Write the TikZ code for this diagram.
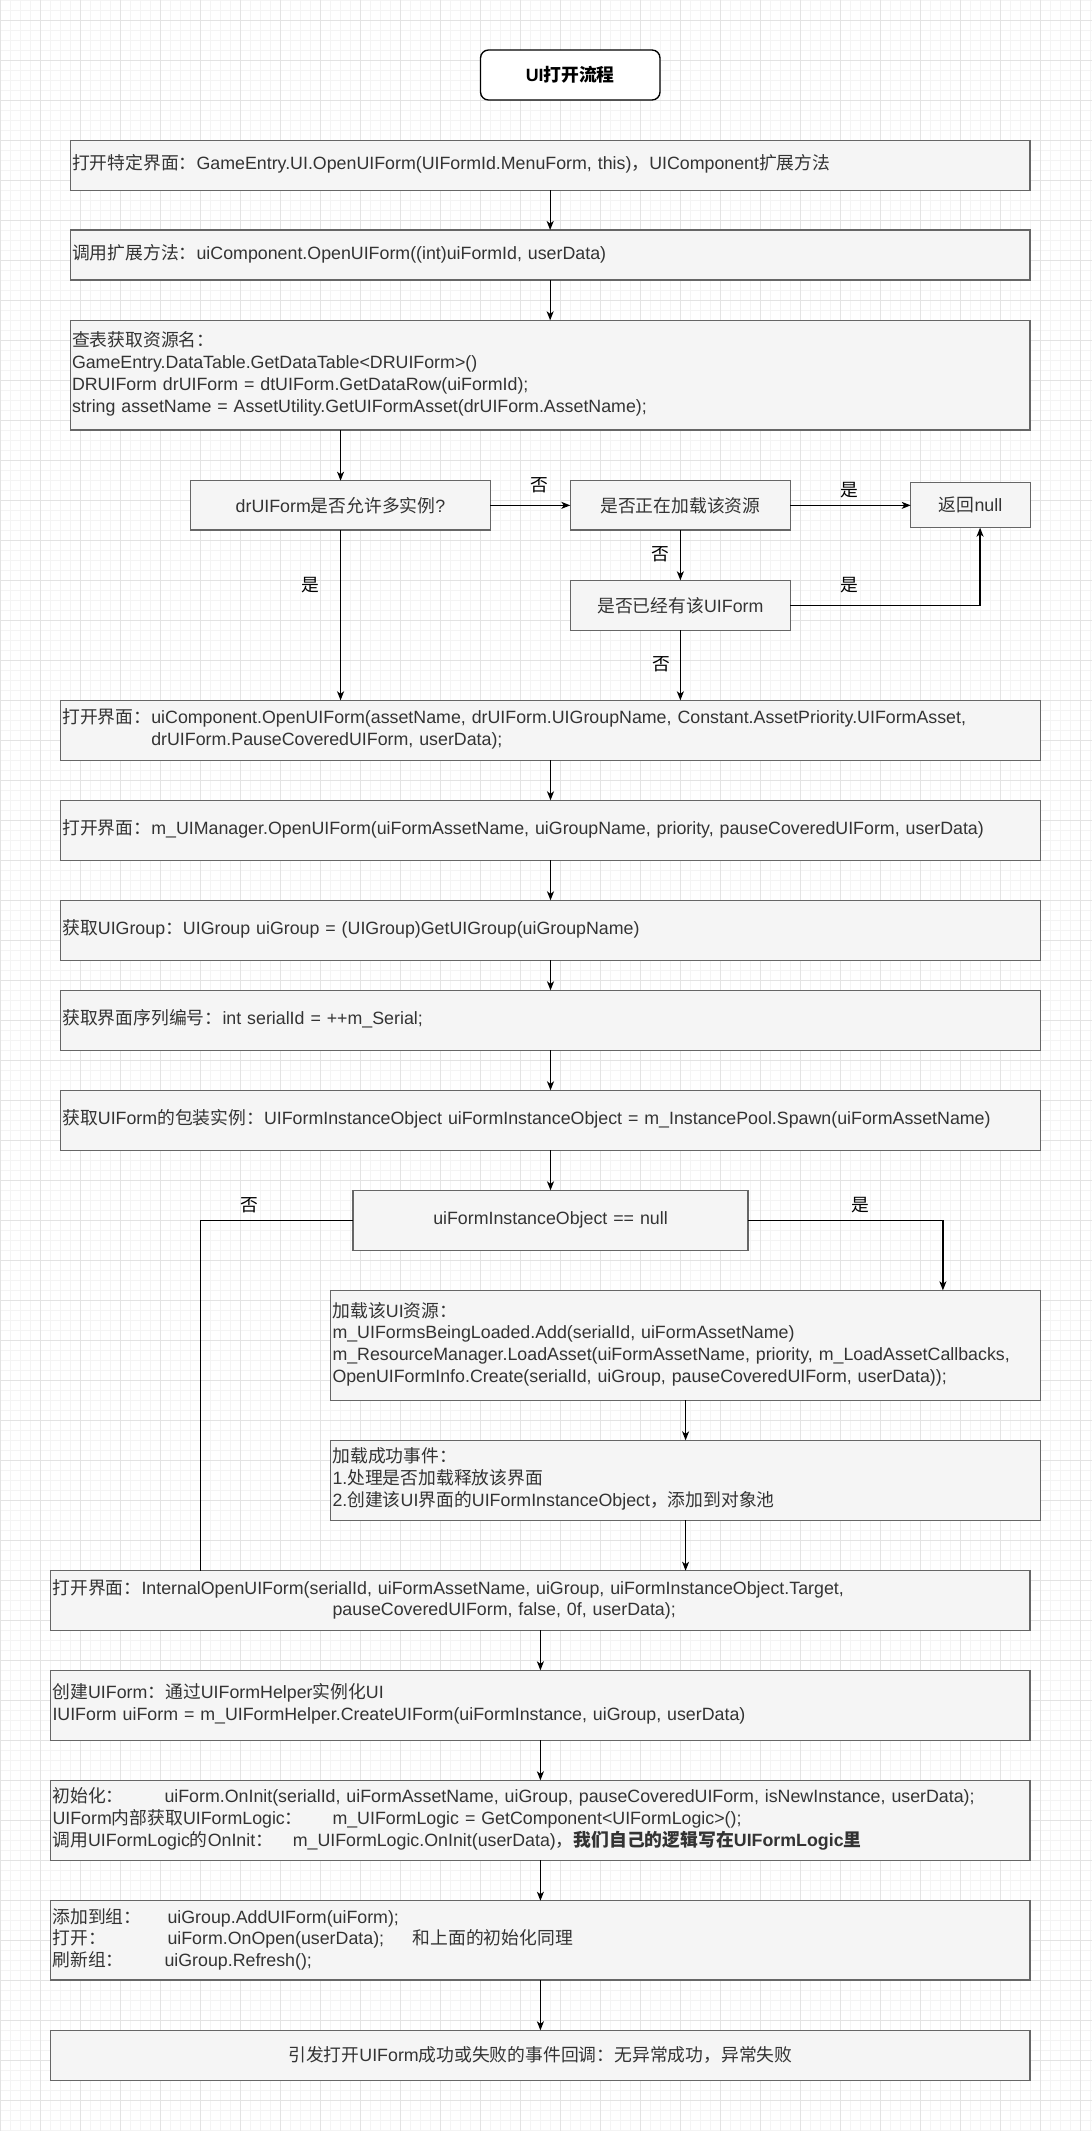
\documentclass[tikz,border=0pt]{standalone}
\usepackage{fontspec}
\setmainfont{Liberation Sans}
\newfontfamily\cjkf{Noto Sans CJK SC}
\newcommand\latf{\rmfamily}
\XeTeXinterchartokenstate=1
\newXeTeXintercharclass\CJKcls
\newcount\cjkcnt
\newcommand\setcjkrange[2]{\cjkcnt=#1\relax\loop\XeTeXcharclass\cjkcnt=\CJKcls\relax\advance\cjkcnt by 1\relax\ifnum\cjkcnt<#2\relax\repeat}
\setcjkrange{"3000}{"3040}
\setcjkrange{"4E00}{"A000}
\setcjkrange{"FF00}{"FFF0}
\XeTeXinterchartoks 0 \CJKcls = {\cjkf}
\XeTeXinterchartoks 4095 \CJKcls = {\cjkf}
\XeTeXinterchartoks \CJKcls 0 = {\latf}
\XeTeXinterchartoks \CJKcls 4095 = {\latf}
\usetikzlibrary{arrows.meta}
\definecolor{boxfill}{HTML}{F5F5F5}
\definecolor{boxline}{HTML}{666666}
\definecolor{boxtext}{HTML}{333333}
\definecolor{gridmajor}{HTML}{E3E3E3}
\definecolor{gridminor}{HTML}{F4F4F4}
\newcommand\lines[1]{\begin{tabular}{@{}l@{}}#1\end{tabular}}
\tikzset{
  txtfont/.style={font=\fontsize{17.8}{21.7}\selectfont},
  boxbase/.style={draw=boxline, fill=boxfill, line width=1.36pt, text=boxtext,
    inner xsep=1.7pt, inner ysep=0pt, outer sep=0pt, txtfont},
  lbox/.style={boxbase, text width=#1, align=left},
  cbox/.style={boxbase, text width=#1, align=center},
  titlebox/.style={draw=black, fill=white, line width=1.36pt, rounded corners=8pt,
    minimum width=179.5pt, minimum height=50pt, inner sep=0pt, outer sep=0pt,
    font=\fontsize{17.8}{21.7}\selectfont\bfseries},
  lab/.style={txtfont, text=black, inner sep=0pt},
  arr/.style={draw=black, line width=1.3pt, -{Stealth[length=9pt,width=7pt,inset=2.5pt]}},
  conn/.style={draw=black, line width=1.3pt},
  gmin/.style={draw=gridminor, line width=1pt},
  gmaj/.style={draw=gridmajor, line width=1pt},
}
\begin{document}
\begin{tikzpicture}[x=1pt,y=-1pt]
\useasboundingbox (0,0) rectangle (1092,2131);
\fill[white] (0,0) rectangle (1092,2131);
% grid
\foreach \gx in {0,10,...,1090} \draw[gmin] (\gx,0) -- (\gx,2131);
\foreach \gy in {0,10,...,2130} \draw[gmin] (0,\gy) -- (1092,\gy);
\foreach \gx in {0,40,...,1080} \draw[gmaj] (\gx,0) -- (\gx,2131);
\foreach \gy in {20,60,...,2100} \draw[gmaj] (0,\gy) -- (1092,\gy);

% nodes
\node[titlebox] (title) at (570.25,75) {UI打开流程};

\node[lbox=956.3, minimum height=50pt] (b1) at (550.15,165.3)
  {\lines{打开特定界面：GameEntry.UI.OpenUIForm(UIFormId.MenuForm, this)，UIComponent扩展方法}};
\node[lbox=956.3, minimum height=50pt] (b2) at (550.15,255)
  {\lines{调用扩展方法：uiComponent.OpenUIForm((int)uiFormId, userData)}};
\node[lbox=956.3, minimum height=109.7pt] (b3) at (550.15,375.15)
  {\lines{查表获取资源名：\\GameEntry.DataTable.GetDataTable<DRUIForm>()\\DRUIForm drUIForm = dtUIForm.GetDataRow(uiFormId);\\string assetName = AssetUtility.GetUIFormAsset(drUIForm.AssetName);}};

\node[cbox=296.1, minimum height=49.3pt] (d1) at (340.55,505.35) {drUIForm是否允许多实例?};
\node[cbox=216.7, minimum height=49.3pt] (d2) at (680.35,505.35) {是否正在加载该资源};
\node[cbox=116.3, minimum height=45pt] (nul) at (970.55,505.2) {返回null};
\node[cbox=216.7, minimum height=50pt] (d3) at (680.35,605.3) {是否已经有该UIForm};

\node[lbox=976.4, minimum height=60pt] (b4) at (550.5,730.3)
  {\lines{打开界面：uiComponent.OpenUIForm(assetName, drUIForm.UIGroupName, Constant.AssetPriority.UIFormAsset,\\\hphantom{打开界面：}drUIForm.PauseCoveredUIForm, userData);}};
\node[lbox=976.4, minimum height=60pt] (b5) at (550.5,830.3)
  {\lines{打开界面：m\_UIManager.OpenUIForm(uiFormAssetName, uiGroupName, priority, pauseCoveredUIForm, userData)}};
\node[lbox=976.4, minimum height=60pt] (b6) at (550.5,930.3)
  {\lines{获取UIGroup：UIGroup uiGroup = (UIGroup)GetUIGroup(uiGroupName)}};
\node[lbox=976.4, minimum height=60pt] (b7) at (550.5,1020.3)
  {\lines{获取界面序列编号：int serialId = ++m\_Serial;}};
\node[lbox=976.4, minimum height=60pt] (b8) at (550.5,1120.3)
  {\lines{获取UIForm的包装实例：UIFormInstanceObject uiFormInstanceObject = m\_InstancePool.Spawn(uiFormAssetName)}};

\node[cbox=391.6, minimum height=60pt] (d4) at (550.5,1220.3) {uiFormInstanceObject == null};

\node[lbox=706.2, minimum height=110pt] (b9) at (685.6,1345.3)
  {\lines{加载该UI资源：\\m\_UIFormsBeingLoaded.Add(serialId, uiFormAssetName)\\m\_ResourceManager.LoadAsset(uiFormAssetName, priority, m\_LoadAssetCallbacks,\\OpenUIFormInfo.Create(serialId, uiGroup, pauseCoveredUIForm, userData));}};
\node[lbox=706.2, minimum height=80pt] (b10) at (685.6,1480.3)
  {\lines{加载成功事件：\\1.处理是否加载释放该界面\\2.创建该UI界面的UIFormInstanceObject，添加到对象池}};

\node[lbox=975.8, minimum height=59.6pt] (b11) at (540.4,1600.5)
  {\lines{打开界面：InternalOpenUIForm(serialId, uiFormAssetName, uiGroup, uiFormInstanceObject.Target,\\\hspace*{280pt}pauseCoveredUIForm, false, 0f, userData);}};
\node[lbox=975.8, minimum height=70pt] (b12) at (540.4,1705.3)
  {\lines{创建UIForm：通过UIFormHelper实例化UI\\IUIForm uiForm = m\_UIFormHelper.CreateUIForm(uiFormInstance, uiGroup, userData)}};
\node[lbox=975.8, minimum height=80pt] (b13) at (540.4,1820.3)
  {\lines{\makebox[112pt][l]{初始化：}uiForm.OnInit(serialId, uiFormAssetName, uiGroup, pauseCoveredUIForm, isNewInstance, userData);\\\makebox[280pt][l]{UIForm内部获取UIFormLogic：}m\_UIFormLogic = GetComponent<UIFormLogic>();\\\makebox[240.3pt][l]{调用UIFormLogic的OnInit：}m\_UIFormLogic.OnInit(userData)，{\bfseries 我们自己的逻辑写在UIFormLogic里}}};
\node[lbox=975.8, minimum height=79.3pt] (b14) at (540.4,1940.35)
  {\lines{\makebox[115pt][l]{添加到组：}uiGroup.AddUIForm(uiForm);\\\makebox[115pt][l]{打开：}\makebox[245.2pt][l]{uiForm.OnOpen(userData);}和上面的初始化同理\\\makebox[112pt][l]{刷新组：}uiGroup.Refresh();}};
\node[cbox=975.8, minimum height=50pt] (b15) at (540.4,2055.3)
  {引发打开UIForm成功或失败的事件回调：无异常成功，异常失败};

% connectors
\draw[arr] (b1.south) -- (b2.north);
\draw[arr] (b2.south) -- (b3.north);
\draw[arr] (b3.south -| d1.north) -- (d1.north);
\draw[arr] (d1.east) -- (d2.west);
\draw[arr] (d2.east) -- (d2.east -| nul.west);
\draw[arr] (d2.south) -- (d3.north);
\draw[arr] (d3.east) -| ([xshift=9.5pt]nul.south);
\draw[arr] (d3.south) -- (d3.south |- b4.north);
\draw[arr] (d1.south) -- (d1.south |- b4.north);
\draw[arr] (b4.south) -- (b5.north);
\draw[arr] (b5.south) -- (b6.north);
\draw[arr] (b6.south) -- (b7.north);
\draw[arr] (b7.south) -- (b8.north);
\draw[arr] (b8.south) -- (d4.north);
\draw[conn] (d4.west) -| ([xshift=149.8pt]b11.north west);
\draw[arr] (d4.east) -| ([xshift=612.1pt]b9.north west);
\draw[arr] (b9.south) -- (b10.north);
\draw[arr] (b10.south) -- (b10.south |- b11.north);
\draw[arr] (b11.south) -- (b12.north);
\draw[arr] (b12.south) -- (b13.north);
\draw[arr] (b13.south) -- (b14.north);
\draw[arr] (b14.south) -- (b15.north);

% labels
\node[lab] (l1) at (539.7,485.5) {否};
\node[lab] (l2) at (849.6,490) {是};
\node[lab] (l3) at (660,554.7) {否};
\node[lab] (l4) at (849.6,585) {是};
\node[lab] (l5) at (661.6,664.7) {否};
\node[lab] (l6) at (310,585) {是};
\node[lab] (l7) at (249.3,1205) {否};
\node[lab] (l8) at (860,1205) {是};
\end{tikzpicture}
\end{document}
